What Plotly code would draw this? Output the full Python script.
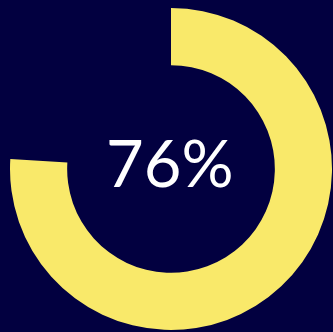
import plotly.graph_objects as go

# Progress share and its remainder
labels = ["Complete", "Remaining"]
values = [76, 24]
center_label = "76%"

BG = "#020040"
FILL = "#f9e96a"

fig = go.Figure(
    go.Pie(
        labels=labels,
        values=values,
        hole=0.645,
        sort=False,
        direction="clockwise",
        rotation=0,
        marker=dict(colors=[FILL, "rgba(0,0,0,0)"], line=dict(width=0)),
        textinfo="none",
        hoverinfo="skip",
        showlegend=False,
    )
)

# Percentage shown in the middle of the ring
fig.add_annotation(
    text=center_label,
    x=0.498, y=0.522, xref="paper", yref="paper",
    showarrow=False,
    font=dict(family="Optima, Candara, Lato", size=65, color="white"),
)

fig.update_layout(
    width=333, height=332,
    margin=dict(l=10, r=1, t=8, b=2),
    paper_bgcolor=BG, plot_bgcolor=BG,
)

fig.write_html("out.html")
